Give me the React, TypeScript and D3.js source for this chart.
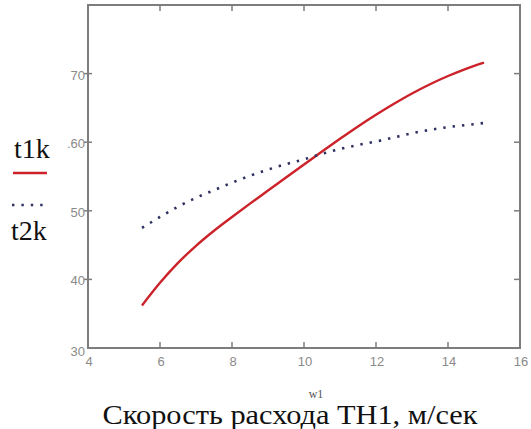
import React from "react";
import * as d3 from "d3";

const W1 = [5.5, 6, 6.5, 7, 7.5, 8, 8.5, 9, 9.5, 10, 10.5, 11, 11.5, 12, 12.5, 13, 13.5, 14, 14.5, 15];
const T1K = [36.2, 39.5, 42.4, 44.9, 47.1, 49.1, 51.05, 52.95, 54.85, 56.75, 58.65, 60.5, 62.3, 64.0, 65.6, 67.1, 68.45, 69.65, 70.7, 71.6];
const T2K = [47.5, 49.1, 50.6, 51.9, 53.0, 54.1, 55.1, 56.0, 56.8, 57.5, 58.3, 59.0, 59.6, 60.1, 60.7, 61.3, 61.8, 62.2, 62.5, 62.8];
const X_TICKS = [4, 6, 8, 10, 12, 14, 16];
const Y_TICKS = [30, 40, 50, 60, 70];
const Y_TICK_LABELS = ["30", "40", "50", ".60", "70"];
const SERIES_NAMES = ["t1k", "t2k"];
const X_VAR = "w1";
const X_TITLE = "Скорость расхода ТН1, м/сек";

export default function App() {
  const x = d3.scaleLinear().domain([4, 16]).range([88, 520]);
  const y = d3.scaleLinear().domain([30, 80]).range([348, 5]);
  const line = d3.line<number>().x((_, i) => x(W1[i])).y((d) => y(d)).curve(d3.curveMonotoneX);
  const axisColor = "#7d7d7d";
  const labelColor = "#8a8a8a";
  const [x0, x1] = x.range();
  const [yb, yt] = y.range();
  return (
    <svg width={531} height={429} style={{ position: "absolute", left: 0, top: 0, background: "#fff" }}>
      <rect x={0} y={0} width={531} height={429} fill="#fff" />
      {/* series */}
      <path d={line(T1K) || ""} fill="none" stroke="#cc2229" strokeWidth={2.4} />
      <path d={line(T2K) || ""} fill="none" stroke="#2e3160" strokeWidth={2.6} strokeDasharray="2.4 7" />
      {/* frame */}
      <rect x={x0} y={yt} width={x1 - x0} height={yb - yt} fill="none" stroke={axisColor} strokeWidth={2} />
      {/* x ticks */}
      {X_TICKS.slice(1, -1).map((t) => (
        <g key={"xt" + t}>
          <line x1={x(t)} x2={x(t)} y1={yb} y2={yb - 6} stroke={axisColor} strokeWidth={1.5} />
          <line x1={x(t)} x2={x(t)} y1={yt} y2={yt + 6} stroke={axisColor} strokeWidth={1.5} />
        </g>
      ))}
      {X_TICKS.map((t) => (
        <text key={"xl" + t} x={x(t) + 1} y={366} textAnchor="middle" fontFamily="Liberation Sans, Arial, sans-serif" fontSize={13} fill={labelColor}>
          {t}
        </text>
      ))}
      {/* y ticks */}
      {Y_TICKS.slice(1).map((t) => (
        <g key={"yt" + t}>
          <line x1={x0 - 4} x2={x0 + 4} y1={y(t)} y2={y(t)} stroke={axisColor} strokeWidth={1.5} />
          <line x1={x1} x2={x1 - 6} y1={y(t)} y2={y(t)} stroke={axisColor} strokeWidth={1.5} />
        </g>
      ))}
      {Y_TICKS.map((t, i) => (
        <text key={"yl" + t} x={85} y={y(t) + (i === 0 ? 8 : 6)} textAnchor="end" fontFamily="Liberation Sans, Arial, sans-serif" fontSize={13} fill={labelColor}>
          {Y_TICK_LABELS[i]}
        </text>
      ))}
      {/* legend */}
      <text x={14} y={158} fontFamily="Liberation Serif, Times New Roman, serif" fontSize={28} fill="#111">
        {SERIES_NAMES[0]}
      </text>
      <line x1={13} x2={47} y1={173} y2={173} stroke="#cc2229" strokeWidth={2.4} />
      <line x1={12} x2={46} y1={205} y2={205} stroke="#2e3160" strokeWidth={2.4} strokeDasharray="2.4 7" />
      <text x={11} y={240} fontFamily="Liberation Serif, Times New Roman, serif" fontSize={28} fill="#111">
        {SERIES_NAMES[1]}
      </text>
      {/* axis titles */}
      <text x={316} y={398} textAnchor="middle" fontFamily="Liberation Serif, Times New Roman, serif" fontSize={12} fill="#555">
        {X_VAR}
      </text>
      <text x={290} y={424} textAnchor="middle" fontFamily="Liberation Serif, Times New Roman, serif" fontSize={27} fill="#111" textLength={375} lengthAdjust="spacingAndGlyphs">
        {X_TITLE}
      </text>
    </svg>
  );
}
